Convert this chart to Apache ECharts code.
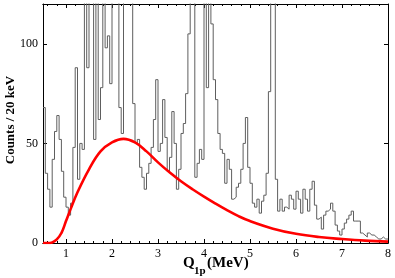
<!DOCTYPE html>
<html>
<head>
<meta charset="utf-8">
<script src="https://cdn.jsdelivr.net/npm/echarts@6/dist/echarts.min.js"></script>
<style>html,body{margin:0;padding:0;background:#fff}#c{width:395px;height:278px}</style>
</head>
<body>
<div id="c"></div>
<script>
// Histogram: 50 keV bins starting at 0.5 MeV (counts per 20 keV)
var binStart = 0.5;
var binWidth = 0.05;
var counts = [
 68,35,27,18,42,56,64,52,36,23,
 18,14,20,48,88,32,50,47,140,88,
 150,130,52,135,62,78,140,98,104,80,
 145,160,150,68,55,140,160,145,130,70,
 50,52,38,33,27,35,40,48,62,82,
 46,50,72,53,36,43,66,50,27,37,
 55,60,75,105,140,150,33,40,47,42,
 140,78,135,110,82,72,55,47,45,30,
 42,37,22,23,28,30,37,50,63,38,
 30,20,18,22,15,21,24,35,76,150,
 140,32,16,22,16,18,17,24,22,17,
 26,22,15,27,22,16,27,31,19,12,
 13,7,14,16,17,20,16,9,6,4,
 7,10,12,14,16,11,11,11,5,4,
 3,5,4,4,3,2,2,3,2,2
];
// Red fit curve
var curveX = [0.5,0.6,0.7,0.8,0.9,1.0,1.1,1.25,1.5,1.75,2.0,2.25,2.5,2.75,3.0,3.25,3.5,3.75,4.0,4.25,4.5,4.75,5.0,5.5,6.0,6.5,7.0,7.5,8.0];
var curveY = [0,0,0.3,1.8,5,11,17,25.5,37,46,50.5,52.3,50.5,46,40.5,35.5,31,27,23.3,19.8,16.5,13.5,11,7.2,4.6,3,2,1.2,0.7];
// Tick labels
var xMajorTicks = [1,2,3,4,5,6,7,8];
var xMinorTicks = [0.6,0.8,1.2,1.4,1.6,1.8,2.2,2.4,2.6,2.8,3.2,3.4,3.6,3.8,4.2,4.4,4.6,4.8,5.2,5.4,5.6,5.8,6.2,6.4,6.6,6.8,7.2,7.4,7.6,7.8];
var yTicks = [0,50,100];

var histData = [];
for (var i = 0; i < counts.length; i++) {
  histData.push([+(binStart + i*binWidth).toFixed(3), counts[i]]);
}
histData.push([+(binStart + counts.length*binWidth).toFixed(3), counts[counts.length-1]]);
var curveData = curveX.map(function(x,i){return [x, curveY[i]];});

var FONT = '"Liberation Serif", "Times New Roman", serif';
function xAx(pos, ticks, len, lab) {
  return {
    type:'value', min:0.5, max:8, position:pos,
    axisLine:{show:true, onZero:false, lineStyle:{color:'#000', width:1}},
    axisTick:{show:true, inside:true, length:len, customValues:ticks, lineStyle:{color:'#000', width:1}},
    axisLabel:{show:lab, customValues:ticks, margin:5, color:'#000', fontSize:12, fontFamily:FONT},
    splitLine:{show:false}
  };
}
function yAx(pos, lab) {
  return {
    type:'value', min:0, max:120, position:pos,
    axisLine:{show:true, onZero:false, lineStyle:{color:'#000', width:1}},
    axisTick:{show:true, inside:true, length:4, customValues:yTicks, lineStyle:{color:'#000', width:1}},
    axisLabel:{show:lab, customValues:yTicks, margin:5, color:'#000', fontSize:12, fontFamily:FONT},
    splitLine:{show:false}
  };
}
var chart = echarts.init(document.getElementById('c'), null, {renderer:'canvas'});
chart.setOption({
  animation:false,
  backgroundColor:'#fff',
  grid:{left:43, right:7, top:4, bottom:35, containLabel:false},
  xAxis:[xAx('bottom', xMajorTicks, 4, true), xAx('bottom', xMinorTicks, 2, false), xAx('top', xMajorTicks, 4, false), xAx('top', xMinorTicks, 2, false)],
  yAxis:[yAx('left', true), yAx('right', false)],
  series:[
    {type:'line', xAxisIndex:0, yAxisIndex:0, step:'end', data:histData, showSymbol:false, symbol:'none',
     lineStyle:{color:'#5e5e5e', width:1}, clip:true, z:2},
    {type:'line', xAxisIndex:0, yAxisIndex:0, smooth:0.4, data:curveData, showSymbol:false, symbol:'none',
     lineStyle:{color:'#ff0000', width:2.6}, clip:true, z:3}
  ],
  graphic:[
    {type:'text', x:11, y:120, rotation:Math.PI/2,
     style:{text:'Counts / 20 keV', font:'bold 13px ' + FONT, fill:'#000', textAlign:'center', textVerticalAlign:'middle', align:'center', verticalAlign:'middle'}},
    {type:'text', x:183, y:263,
     style:{text:'Q', font:'bold 15px ' + FONT, fill:'#000', textAlign:'left', textVerticalAlign:'middle', align:'left', verticalAlign:'middle'}},
    {type:'text', x:194, y:271,
     style:{text:'1p', font:'bold 11px ' + FONT, fill:'#000', textAlign:'left', textVerticalAlign:'middle', align:'left', verticalAlign:'middle'}},
    {type:'text', x:207, y:263,
     style:{text:'(MeV)', font:'bold 15px ' + FONT, fill:'#000', textAlign:'left', textVerticalAlign:'middle', align:'left', verticalAlign:'middle'}}
  ]
});
</script>
</body>
</html>
